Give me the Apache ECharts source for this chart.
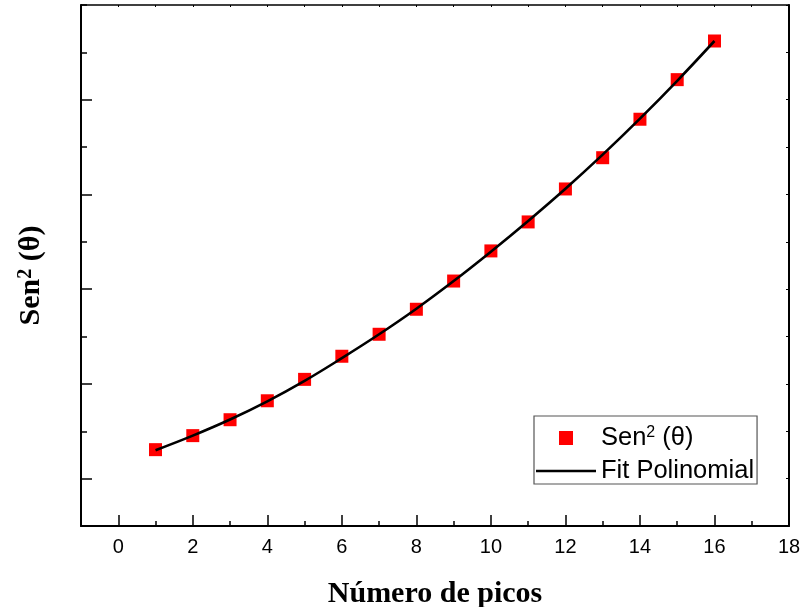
<!DOCTYPE html>
<html>
<head>
<meta charset="utf-8">
<script src="https://cdn.jsdelivr.net/npm/echarts@6/dist/echarts.min.js"></script>
<style>
  html, body { margin: 0; padding: 0; background: #fff; }
  #chart { width: 803px; height: 607px; }
</style>
</head>
<body>
<div id="chart"></div>
<script>
// Peak index on the x axis
const peakNumbers = [1, 2, 3, 4, 5, 6, 7, 8, 9, 10, 11, 12, 13, 14, 15, 16];
// Measured sin²(θ) for each peak
const sen2Values = [0.0653, 0.0727, 0.0811, 0.0911, 0.1024, 0.1146, 0.1262, 0.1394,
                    0.1543, 0.1702, 0.1855, 0.2029, 0.2194, 0.2397, 0.2606, 0.2810];
// Polynomial fit evaluated at each peak
const fitValues = [0.0650, 0.0727, 0.0812, 0.0908, 0.1016, 0.1136, 0.1262, 0.1397,
                   0.1543, 0.1698, 0.1860, 0.2030, 0.2210, 0.2400, 0.2600, 0.2810];
// Labelled ticks on the x axis
const xTickLabels = [0, 2, 4, 6, 8, 10, 12, 14, 16, 18];
// Major ticks on the y axis (unlabelled)
const yMajorTicks = [0.05, 0.10, 0.15, 0.20, 0.25];

const SEN_NAME = 'Sen² (θ)';
const FIT_NAME = 'Fit Polinomial';

const sansFont = 'Liberation Sans, Arial, sans-serif';
const serifFont = 'Liberation Serif, Times New Roman, serif';

const chart = echarts.init(document.getElementById('chart'), null, { renderer: 'canvas' });

const xRange = { min: -1, max: 18 };
const yRange = { min: 0.025, max: 0.30 };

const hiddenLabel = { show: false };
const noSplit = { show: false };

// legend icons: a filled square for the points, a thin bar for the fit line
const squareIcon = 'path://M0,0L10,0L10,10L0,10Z';
const lineIcon = 'path://M0,0L60,0L60,2.5L0,2.5Z';

const option = {
  animation: false,
  backgroundColor: '#ffffff',
  grid: { left: 81, right: 14, top: 5, bottom: 81, outerBoundsMode: 'none', containLabel: false },
  legend: {
    orient: 'vertical',
    left: 534,
    top: 416,
    itemWidth: 60,
    itemHeight: 14,
    itemGap: 7,
    padding: [9, 3, 0, 2],
    borderColor: '#555',
    borderWidth: 1.2,
    borderRadius: 0,
    symbolKeepAspect: true,
    data: [{ name: SEN_NAME, icon: squareIcon }, { name: FIT_NAME, icon: lineIcon }],
    formatter: function (name) {
      return name === SEN_NAME ? '{a|Sen}{s|2}{a| (θ)}' : '{a|' + name + '}';
    },
    textStyle: {
      color: '#000',
      fontFamily: sansFont,
      fontSize: 25.5,
      rich: {
        a: { fontFamily: sansFont, fontSize: 25.5, color: '#000' },
        s: { fontFamily: sansFont, fontSize: 16, color: '#000', verticalAlign: 'top' }
      }
    }
  },
  xAxis: [
    {
      // bottom axis: labels and major ticks
      type: 'value', position: 'bottom', min: xRange.min, max: xRange.max, interval: 1,
      name: 'Número de picos',
      nameLocation: 'middle',
      nameGap: 53,
      nameTextStyle: { fontFamily: serifFont, fontWeight: 'bold', fontSize: 30, color: '#000' },
      axisLine: { show: true, onZero: false, lineStyle: { color: '#000', width: 2 } },
      axisTick: { show: true, inside: true, length: 11, customValues: xTickLabels,
                  lineStyle: { color: '#000', width: 1.5 } },
      axisLabel: { show: true, customValues: xTickLabels, margin: 11,
                   fontFamily: sansFont, fontSize: 20, color: '#000' },
      splitLine: noSplit
    },
    {
      // bottom axis: minor ticks
      type: 'value', position: 'bottom', min: xRange.min, max: xRange.max, interval: 1,
      axisLine: { show: false, onZero: false },
      axisTick: { show: true, inside: true, length: 5, lineStyle: { color: '#000', width: 1.5 } },
      axisLabel: hiddenLabel, splitLine: noSplit
    },
    {
      // top frame
      type: 'value', position: 'top', min: xRange.min, max: xRange.max, interval: 1,
      axisLine: { show: true, onZero: false, lineStyle: { color: '#000', width: 1.5 } },
      axisTick: { show: true, inside: true, length: 2, lineStyle: { color: '#000', width: 1 } },
      axisLabel: hiddenLabel, splitLine: noSplit
    }
  ],
  yAxis: [
    {
      // left axis: minor ticks every 0.025
      type: 'value', position: 'left', min: yRange.min, max: yRange.max, interval: 0.025,
      name: '{a|Sen}{s|2}{a| (θ)}',
      nameLocation: 'middle',
      nameRotate: 90,
      nameGap: 35,
      nameTextStyle: {
        fontFamily: serifFont, fontWeight: 'bold', fontSize: 30, color: '#000',
        padding: [0, 20, 0, 0],
        rich: {
          a: { fontFamily: serifFont, fontWeight: 'bold', fontSize: 30, color: '#000' },
          s: { fontFamily: serifFont, fontWeight: 'bold', fontSize: 20, color: '#000', verticalAlign: 'top' }
        }
      },
      axisLine: { show: true, onZero: false, lineStyle: { color: '#000', width: 2 } },
      axisTick: { show: true, inside: true, length: 6, lineStyle: { color: '#000', width: 1.5 } },
      axisLabel: hiddenLabel, splitLine: noSplit
    },
    {
      // left axis: major ticks
      type: 'value', position: 'left', min: yRange.min, max: yRange.max, interval: 0.025,
      axisLine: { show: false, onZero: false },
      axisTick: { show: true, inside: true, length: 11, customValues: yMajorTicks,
                  lineStyle: { color: '#000', width: 1.5 } },
      axisLabel: hiddenLabel, splitLine: noSplit
    },
    {
      // right frame
      type: 'value', position: 'right', min: yRange.min, max: yRange.max, interval: 0.025,
      axisLine: { show: true, onZero: false, lineStyle: { color: '#000', width: 2 } },
      axisTick: { show: true, inside: true, length: 3, lineStyle: { color: '#000', width: 1 } },
      axisLabel: hiddenLabel, splitLine: noSplit
    }
  ],
  series: [
    {
      name: SEN_NAME,
      type: 'scatter',
      xAxisIndex: 0, yAxisIndex: 0,
      symbol: 'rect',
      symbolSize: 13,
      itemStyle: { color: '#ff0000', opacity: 1 },
      data: peakNumbers.map((p, i) => [p, sen2Values[i]]),
      z: 2
    },
    {
      name: FIT_NAME,
      type: 'line',
      xAxisIndex: 0, yAxisIndex: 0,
      symbol: 'none',
      smooth: 0.4,
      lineStyle: { color: '#000', width: 2.6 },
      itemStyle: { color: '#000' },
      data: peakNumbers.map((p, i) => [p, fitValues[i]]),
      z: 3
    }
  ]
};

chart.setOption(option);
</script>
</body>
</html>
